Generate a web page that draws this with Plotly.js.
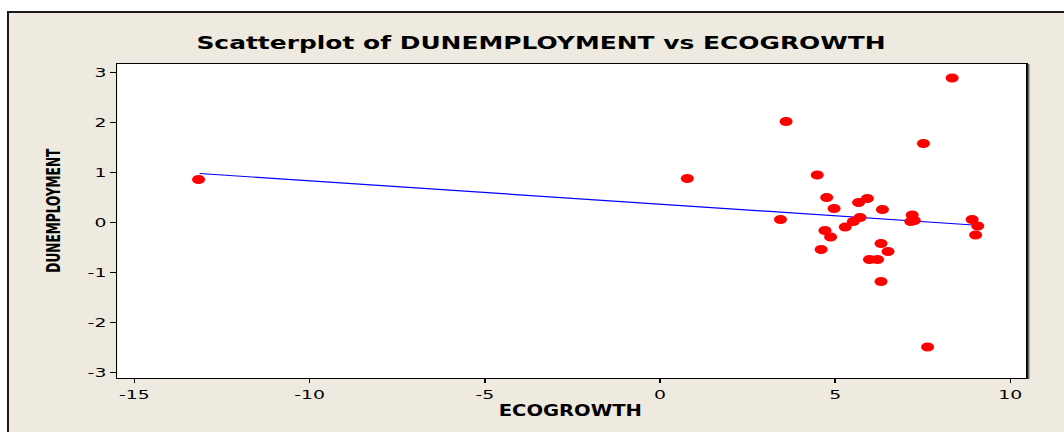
<!DOCTYPE html>
<html>
<head>
<meta charset="utf-8">
<script src="https://cdn.plot.ly/plotly-3.0.1.min.js"></script>
<style>
  html, body { margin: 0; padding: 0; background: #ffffff; }
  #wrap { position: relative; width: 1064px; height: 432px; overflow: hidden; background: #ffffff; }
  #frame { position: absolute; left: 7px; top: 11px; width: 1100px; height: 460px;
           background: #EEEADF; border: 2px solid #1a1a1a; box-sizing: border-box; }
  #plot { position: absolute; left: 0; top: 0; width: 734px; height: 432px;
          transform: scaleX(1.4496); transform-origin: 0 0; }
</style>
</head>
<body>
<div id="wrap">
  <div id="frame"></div>
  <div id="plot"></div>
</div>
<script>
// Observed points (ECOGROWTH, DUNEMPLOYMENT)
const ecoGrowth = [-13.17, 0.78, 3.60, 3.44, 8.34, 7.52, 4.49, 4.76, 4.97, 5.67,
                   5.92, 6.35, 5.71, 5.52, 5.29, 4.71, 4.87, 4.60, 6.31, 6.51,
                   5.98, 6.21, 6.31, 7.64, 7.20, 7.16, 7.26, 8.91, 9.07, 9.01];
const dUnemployment = [0.86, 0.88, 2.02, 0.06, 2.89, 1.58, 0.95, 0.50, 0.28, 0.40,
                       0.48, 0.26, 0.10, 0.02, -0.09, -0.16, -0.29, -0.54, -0.42, -0.58,
                       -0.74, -0.74, -1.18, -2.49, 0.15, 0.02, 0.04, 0.06, -0.07, -0.25];
// Fitted line endpoints
const fitX = [-13.14, 8.94];
const fitY = [0.98, -0.05];
// Tick labels
const xTickVals = [-15, -10, -5, 0, 5, 10];
const xTickText = ["-15", "-10", "-5", "0", "5", "10"];
const yTickVals = [-3, -2, -1, 0, 1, 2, 3];
const yTickText = ["-3", "-2", "-1", "0", "1", "2", "3"];

const tickFont = { family: "DejaVu Sans, Verdana, sans-serif", size: 13, color: "#000000" };

const traces = [
  {
    x: fitX, y: fitY, type: "scatter", mode: "lines",
    line: { color: "#0000FF", width: 1.2 }, hoverinfo: "skip", showlegend: false
  },
  {
    x: ecoGrowth, y: dUnemployment, type: "scatter", mode: "markers",
    marker: { color: "#FF0000", size: 9, line: { width: 0 } }, showlegend: false
  }
];

const layout = {
  width: 734, height: 432,
  margin: { l: 81.4, r: 26.2, t: 64, b: 54, pad: 0 },
  paper_bgcolor: "rgba(0,0,0,0)",
  plot_bgcolor: "#ffffff",
  showlegend: false,
  title: {
    text: "Scatterplot of DUNEMPLOYMENT vs ECOGROWTH",
    font: { family: "DejaVu Sans, Verdana, sans-serif", size: 17.2, color: "#000000", weight: "bold" },
    xref: "container", x: 0.5085, xanchor: "center",
    yref: "container", y: 0.9005, yanchor: "middle"
  },
  xaxis: {
    range: [-15.486, 10.457],
    tickmode: "array", tickvals: xTickVals, ticktext: xTickText,
    ticks: "outside", ticklen: 4, tickwidth: 1, tickcolor: "#000000",
    showgrid: false, zeroline: false,
    showline: true, linecolor: "#000000", linewidth: 1, mirror: true,
    tickfont: tickFont
  },
  yaxis: {
    range: [-3.11, 3.17],
    tickmode: "array", tickvals: yTickVals, ticktext: yTickText,
    ticks: "outside", ticklen: 4, tickwidth: 1, tickcolor: "#000000",
    showgrid: false, zeroline: false,
    showline: true, linecolor: "#000000", linewidth: 1, mirror: true,
    tickfont: tickFont
  },
  shapes: [
    { type: "line", xref: "paper", yref: "paper", x0: 1.0025, x1: 1.0025, y0: -0.003, y1: 1.0,
      line: { color: "#666666", width: 1.2 } }
  ],
  annotations: [
    {
      text: "ECOGROWTH", xref: "paper", yref: "paper", x: 0.499, y: -0.105,
      xanchor: "center", yanchor: "middle", showarrow: false,
      font: { family: "DejaVu Sans Condensed, DejaVu Sans, sans-serif", size: 15, color: "#000000", weight: "bold" }
    },
    {
      text: "DUNEMPLOYMENT", xref: "paper", yref: "paper", x: -0.0706, y: 0.535,
      xanchor: "center", yanchor: "middle", showarrow: false, textangle: -90,
      font: { family: "DejaVu Sans Condensed, sans-serif", size: 13.5, color: "#000000", weight: "bold" }
    }
  ]
};

Plotly.newPlot("plot", traces, layout, { staticPlot: true, displayModeBar: false });
</script>
</body>
</html>
